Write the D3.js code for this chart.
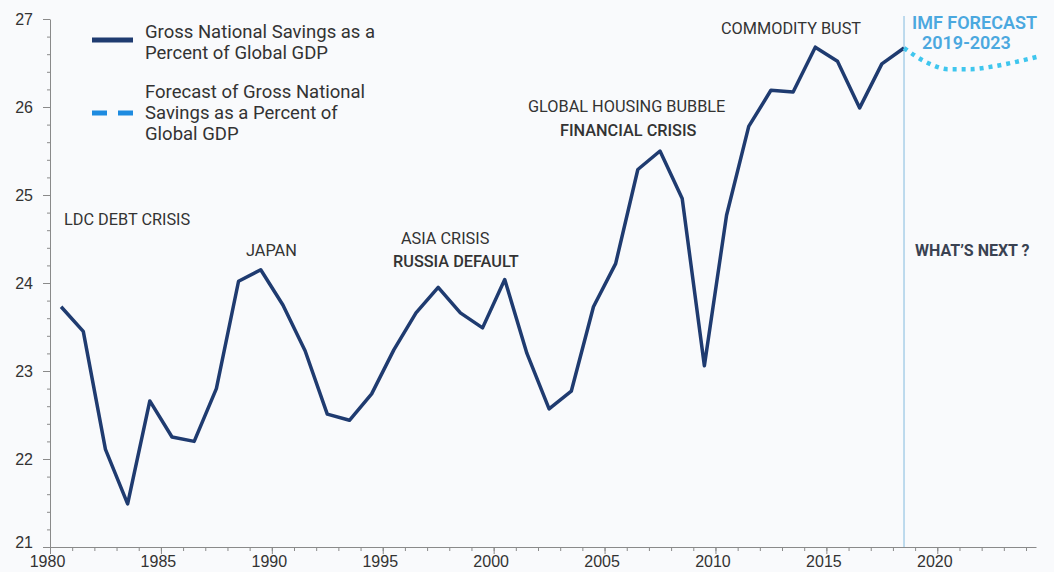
<!DOCTYPE html>
<html>
<head>
<meta charset="utf-8">
<script src="https://cdn.jsdelivr.net/npm/d3@7"></script>
<style>
  html, body { margin: 0; padding: 0; background: #f9fafc; }
  svg { display: block; font-family: Roboto, "DejaVu Sans", sans-serif; }
</style>
</head>
<body>
<script>
(function () {

    const years = [1980, 1981, 1982, 1983, 1984, 1985, 1986, 1987, 1988, 1989,
        1990, 1991, 1992, 1993, 1994, 1995, 1996, 1997, 1998, 1999,
        2000, 2001, 2002, 2003, 2004, 2005, 2006, 2007, 2008, 2009,
        2010, 2011, 2012, 2013, 2014, 2015, 2016, 2017, 2018];
    const savings = [23.73, 23.45, 22.11, 21.49, 22.66, 22.25, 22.20, 22.80, 24.02, 24.15,
        23.75, 23.23, 22.51, 22.44, 22.74, 23.24, 23.66, 23.95, 23.66, 23.49,
        24.04, 23.20, 22.57, 22.77, 23.73, 24.22, 25.29, 25.50, 24.96, 23.06,
        24.77, 25.78, 26.19, 26.17, 26.68, 26.52, 25.99, 26.49, 26.67];

    const forecastYears = [2018, 2019, 2020, 2021, 2022, 2023, 2024];
    const forecast = [26.67, 26.51, 26.43, 26.43, 26.46, 26.51, 26.57];

    const yTicks = [21, 22, 23, 24, 25, 26, 27];
    const xTicks = [1980, 1985, 1990, 1995, 2000, 2005, 2010, 2015, 2020];

    const annotations = [
        {text: 'LDC DEBT CRISIS', x: 64, y: 225, bold: false},
        {text: 'JAPAN', x: 246, y: 256, bold: false},
        {text: 'ASIA CRISIS', x: 401, y: 244, bold: false},
        {text: 'RUSSIA DEFAULT', x: 393, y: 267, bold: true},
        {text: 'GLOBAL HOUSING BUBBLE', x: 528, y: 112, bold: false},
        {text: 'FINANCIAL CRISIS', x: 560, y: 136, bold: true},
        {text: 'COMMODITY BUST', x: 721, y: 34, bold: false}
    ];

    const width = 1054, height = 572;
    const margin = {top: 19, bottom: 25, left: 50, right: 18};

    const svg = d3.select('body')
        .append('svg')
        .attr('width', width)
        .attr('height', height);

    const x = d3.scaleLinear()
        .domain([1980, 2024.45])
        .range([margin.left, width - margin.right]);

    const y = d3.scaleLinear()
        .domain([21, 27])
        .range([height - margin.bottom, margin.top]);

    // points sit at mid-year
    const px = d => x(d + 0.5);

    const axisColor = '#8a8a8a';

    // minor ticks
    svg.append('g')
        .attr('transform', 'translate(0,' + y(21) + ')')
        .call(d3.axisBottom(x).tickValues(d3.range(1980, 2025)).tickSize(4).tickFormat(''))
        .call(g => g.select('.domain').remove())
        .call(g => g.selectAll('line').attr('stroke', axisColor));

    svg.append('g')
        .attr('transform', 'translate(' + x(1980) + ',0)')
        .call(d3.axisLeft(y).tickValues(d3.range(21, 27.01, 0.2)).tickSize(3).tickFormat(''))
        .call(g => g.select('.domain').remove())
        .call(g => g.selectAll('line').attr('stroke', axisColor));

    // major ticks
    svg.append('g')
        .attr('transform', 'translate(0,' + y(21) + ')')
        .call(d3.axisBottom(x).tickValues(xTicks).tickSize(7).tickSizeOuter(0).tickPadding(2).tickFormat(d3.format('d')))
        .call(g => g.select('.domain').attr('stroke', axisColor))
        .call(g => g.selectAll('line').attr('stroke', axisColor))
        .call(g => g.selectAll('text').attr('fill', '#333').style('font-size', '16px').attr('dx', '-3'));

    svg.append('g')
        .attr('transform', 'translate(' + x(1980) + ',0)')
        .call(d3.axisLeft(y).tickValues(yTicks).tickSize(7).tickSizeOuter(0).tickPadding(10).tickFormat(d3.format('d')))
        .call(g => g.select('.domain').attr('stroke', axisColor))
        .call(g => g.selectAll('line').attr('stroke', axisColor))
        .call(g => g.selectAll('text').attr('fill', '#333').style('font-size', '16px'))
        .call(g => g.selectAll('.tick').filter(d => d === 21).select('text').attr('dy', '0.05em'));

    // forecast divider
    svg.append('line')
        .attr('x1', px(2018)).attr('x2', px(2018))
        .attr('y1', 16).attr('y2', y(21))
        .attr('stroke', '#a9cfe8')
        .attr('stroke-width', 1.5);

    const line = d3.line()
        .x(d => px(d[0]))
        .y(d => y(d[1]));

    svg.append('path')
        .datum(d3.zip(years, savings))
        .attr('fill', 'none')
        .attr('stroke', '#1f3b70')
        .attr('stroke-width', 3.5)
        .attr('stroke-linejoin', 'round')
        .attr('d', line);

    svg.append('path')
        .datum(d3.zip(forecastYears, forecast))
        .attr('fill', 'none')
        .attr('stroke', '#3fc6ee')
        .attr('stroke-width', 4.5)
        .attr('stroke-dasharray', '4,5')
        .attr('d', line.curve(d3.curveMonotoneX));

    // legend
    const legend = svg.append('g');
    legend.append('line')
        .attr('x1', 92).attr('x2', 133).attr('y1', 40).attr('y2', 40)
        .attr('stroke', '#1f3b70').attr('stroke-width', 5);
    legend.append('line')
        .attr('x1', 92).attr('x2', 133).attr('y1', 113).attr('y2', 113)
        .attr('stroke', '#1e8be0').attr('stroke-width', 5)
        .attr('stroke-dasharray', '15,11');

    const legendText = [
        {lines: ['Gross National Savings as a', 'Percent of Global GDP'], y: 38},
        {lines: ['Forecast of Gross National', 'Savings as a Percent of', 'Global GDP'], y: 98}
    ];
    legendText.forEach(item => {
        legend.append('text')
            .attr('x', 145)
            .attr('y', item.y)
            .attr('fill', '#333')
            .style('font-size', '18.5px')
            .selectAll('tspan')
            .data(item.lines)
            .join('tspan')
            .attr('x', 145)
            .attr('dy', (d, i) => i === 0 ? 0 : 20.8)
            .text(d => d);
    });

    // annotations
    svg.selectAll('.note')
        .data(annotations)
        .join('text')
        .attr('class', 'note')
        .attr('x', d => d.x)
        .attr('y', d => d.y)
        .attr('fill', '#333')
        .style('font-size', '16.3px')
        .style('font-weight', d => d.bold ? 500 : 400)
        .text(d => d.text);

    svg.append('text')
        .attr('x', 912).attr('y', 29)
        .attr('fill', '#4ba8df')
        .style('font-size', '18px').style('font-weight', 600)
        .text('IMF FORECAST');
    svg.append('text')
        .attr('x', 922).attr('y', 49)
        .attr('fill', '#4ba8df')
        .style('font-size', '18px').style('font-weight', 600)
        .text('2019-2023');

    svg.append('text')
        .attr('x', 915).attr('y', 256)
        .attr('fill', '#3a4252')
        .style('font-size', '16px').style('font-weight', 700)
        .text('WHAT\u2019S NEXT ?');

})();
</script>
</body>
</html>
